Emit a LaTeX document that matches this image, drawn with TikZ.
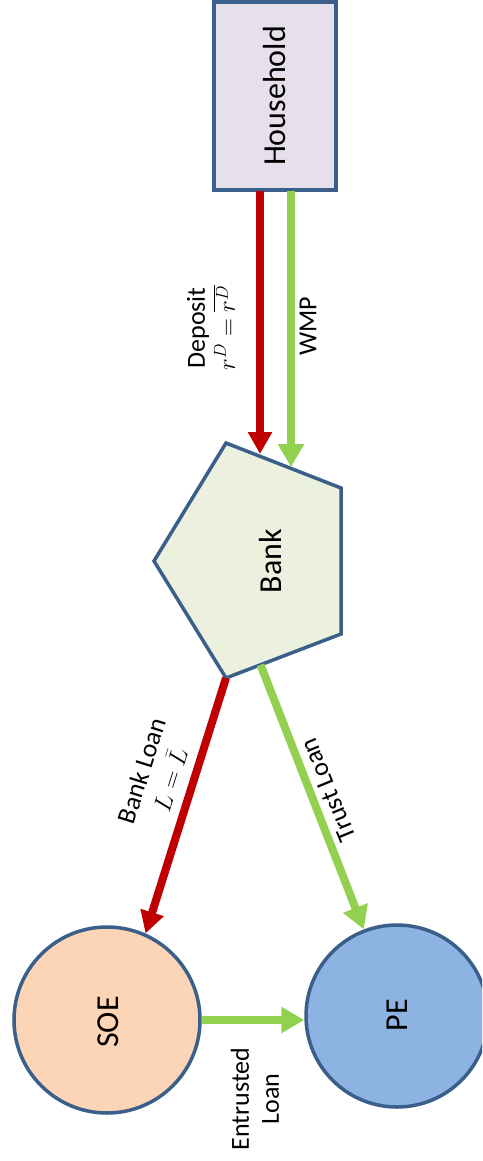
\documentclass[tikz,border=0pt]{standalone}
\usepackage{fontspec}
\setmainfont{Carlito}
\usetikzlibrary{arrows.meta,calc}
\definecolor{edgeblue}{HTML}{3A5F8B}
\definecolor{hhfill}{HTML}{E5E0EC}
\definecolor{bankfill}{HTML}{EBF1DE}
\definecolor{soefill}{HTML}{FBD5B5}
\definecolor{pefill}{HTML}{8DB3E2}
\definecolor{flowred}{HTML}{C00000}
\definecolor{flowgreen}{HTML}{92D050}
\tikzset{
  bigtext/.style={font=\fontsize{32}{38}\selectfont},
  lbl/.style={font=\fontsize{26}{30}\selectfont, align=center, inner sep=0pt},
  shapeline/.style={draw=edgeblue, line width=3.5pt},
  redflow/.style={draw=flowred, line width=8pt, -{Triangle[width=23pt,length=22pt]}, flowred},
  greenflow/.style={draw=flowgreen, line width=8pt, -{Triangle[width=25pt,length=23pt]}, flowgreen},
}
\begin{document}
\begin{tikzpicture}[x=1pt,y=-1pt]
\useasboundingbox (0,0) rectangle (482,1161);
\clip (0,0) rectangle (482,1161);
\fill[white] (0,0) rectangle (482,1161);

% Household
\node[shapeline, fill=hhfill, rectangle, rotate=90, minimum width=188pt, minimum height=122pt, bigtext, inner sep=0pt] (household) at (275,96) {Household};

% Bank pentagon
\coordinate (b1) at (226,443);
\coordinate (b2) at (341,488);
\coordinate (b3) at (341,634);
\coordinate (b4) at (226,678);
\coordinate (b5) at (154,561);
\filldraw[shapeline, fill=bankfill, line join=miter] (b1) -- (b2) -- (b3) -- (b4) -- (b5) -- cycle;
\node[bigtext, rotate=90, inner sep=0pt] (bank) at (271,561) {Bank};

% SOE and PE
\node[shapeline, fill=soefill, circle, minimum size=186pt, inner sep=0pt] (soe) at (107,1020) {};
\node[bigtext, rotate=90, inner sep=0pt] (soetext) at (108,1022) {SOE};
\node[shapeline, fill=pefill, circle, minimum size=182pt, inner sep=0pt] (pe) at (397,1016) {};
\node[bigtext, rotate=90, inner sep=0pt] (petext) at (397,1015) {PE};

% connector end points
\coordinate (hdep) at (260,191);
\coordinate (bdep) at (260,454);
\coordinate (hwmp) at (291,191);
\coordinate (bwmp) at (291,467);
\coordinate (btrust) at ($(b4)!0.3!(b3)$);

% flows
\draw[redflow] (hdep) -- (bdep);
\draw[greenflow] (hwmp) -- (bwmp);
\draw[redflow] (b4) -- (soe.66);
\draw[greenflow] (btrust) -- (pe.111);
\draw[greenflow] (soe.east) -- (soe.east -| pe.west);

% labels
\node[lbl, rotate=90] (deplbl) at (211,328) {Deposit\\$r^D=\overline{r^D}$};
\node[lbl, rotate=90] (wmplbl) at (308,326) {WMP};
\node[lbl, rotate=72.5] (banklbl) at (156,775) {Bank Loan\\$L=\bar{L}$};
\node[lbl, rotate=112.5] (trustlbl) at (328,790) {Trust Loan};
\node[lbl, rotate=90] (entlbl) at (255,1099) {Entrusted\\Loan};
\end{tikzpicture}
\end{document}
